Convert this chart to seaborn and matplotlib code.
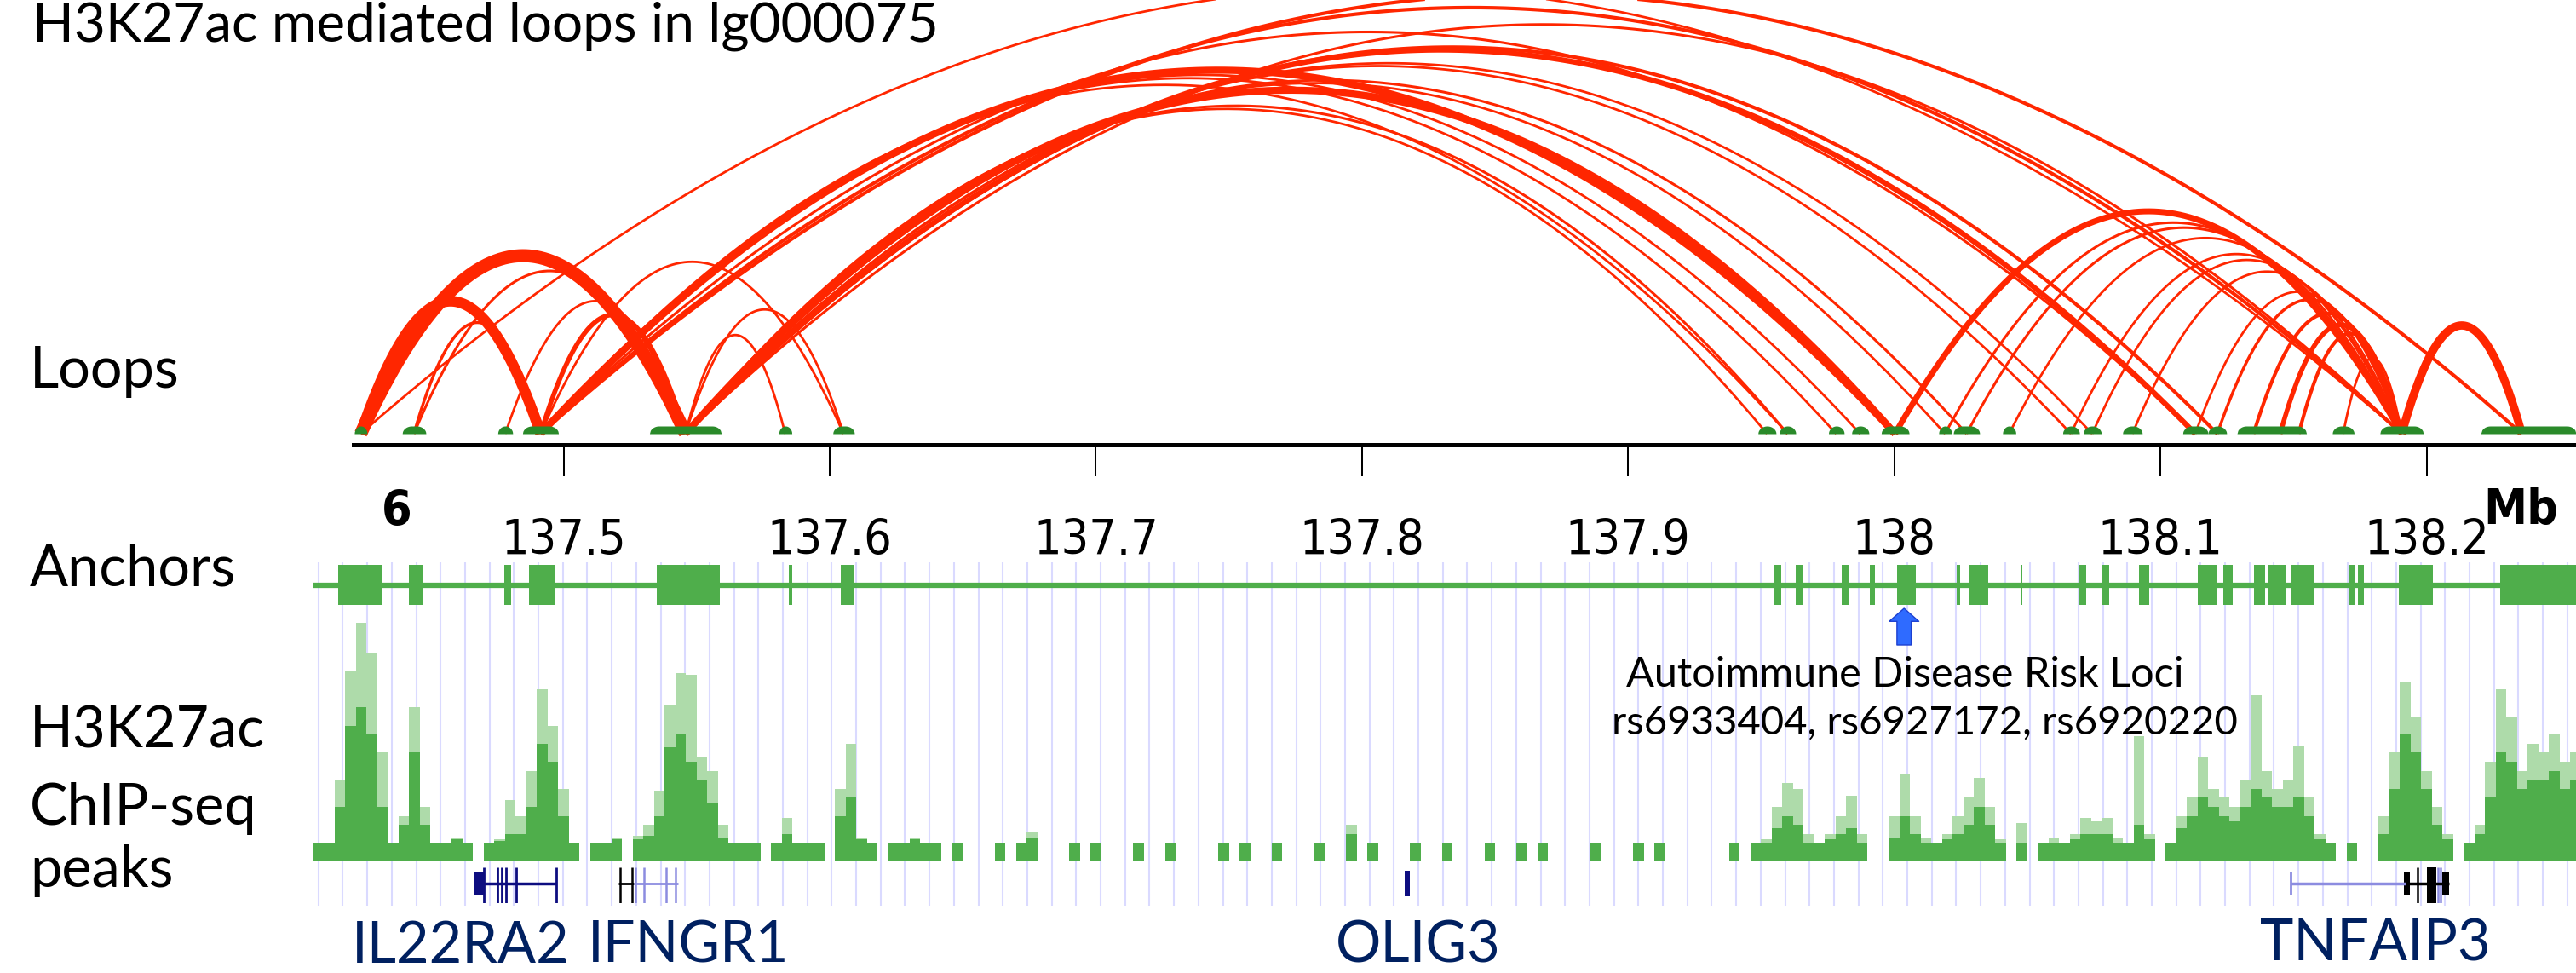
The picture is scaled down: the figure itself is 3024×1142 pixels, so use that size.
import numpy as np
import pandas as pd
import matplotlib
matplotlib.use("Agg")
import matplotlib.pyplot as plt
import seaborn as sns

# ---- data (chr6, Mb) ----
x_min, x_max = 137.28827, 138.25617

anchor_names = ["a1", "a2", "a3", "a4", "a5", "a6", "a7",
                "b1", "b2", "b3", "b4", "b5", "b6", "b7", "b8", "b9", "b10",
                "b11", "b12", "b13", "b14a", "b14b", "b14c", "b15", "b16", "b17"]
anchor_mb = [137.4238, 137.4438, 137.4781, 137.4914, 137.5458, 137.5833, 137.6052,
             137.9522, 137.9599, 137.9782, 137.9872, 138.0003, 138.0191, 138.0272,
             138.0432, 138.0664, 138.0744, 138.0895, 138.1131, 138.1214, 138.1350,
             138.1450, 138.1520, 138.1687, 138.1907, 138.2358]

loop_from = ["a1", "a1", "a2", "a2", "a3", "a4", "a4", "a5", "a5",
             "a1", "a4", "a5", "a4", "a5", "a4", "a5", "a5", "a4", "a5", "a5",
             "a4", "a4", "a5", "a5", "a5", "a5", "a4",
             "b5", "b6", "b7", "b8", "b9", "b10", "b11", "b12", "b13", "b14a",
             "b14b", "b14c", "b15", "b16"]
loop_to = ["a4", "a5", "a4", "a5", "a5", "a5", "a7", "a6", "a7",
           "b16", "b5", "b5", "b16", "b16", "b17", "b12", "b13", "b12", "b2", "b1",
           "b3", "b4", "b7", "b6", "b9", "b10", "b2",
           "b16", "b16", "b16", "b16", "b16", "b16", "b16", "b16", "b16", "b16",
           "b16", "b16", "b16", "b17"]
loop_weight = [9, 11, 2.5, 2.2, 2, 4, 2, 2, 2,
               2, 6, 6, 3, 2.2, 3, 4.5, 3, 2.2, 2.2, 2,
               2, 2, 2.2, 2, 2, 2, 2,
               5, 2.2, 2.2, 2, 2, 2, 2, 2, 2.5, 3,
               4, 3, 2, 7]

# loop anchor footprints (start, end)
bump_start = [137.4214, 137.4394, 137.4753, 137.4846, 137.5323, 137.5809, 137.6012,
              137.9488, 137.9568, 137.9753, 137.9840, 137.9951, 138.0167, 138.0222,
              138.0407, 138.0633, 138.0710, 138.0858, 138.1084, 138.1179, 138.1288,
              138.1646, 138.1825, 138.2204]
bump_end = [137.4262, 137.4483, 137.4809, 137.4981, 137.5593, 137.5858, 137.6093,
            137.9556, 137.9630, 137.9812, 137.9905, 138.0056, 138.0216, 138.0321,
            138.0457, 138.0696, 138.0778, 138.0932, 138.1179, 138.1249, 138.1549,
            138.1728, 138.1988, 138.2562]

# anchors track boxes
box_start = [137.4154, 137.4420, 137.4778, 137.4870, 137.5352, 137.5846, 137.6043,
             137.9549, 137.9630, 137.9802, 137.9907, 138.0012, 138.0235, 138.0284,
             138.0475, 138.0691, 138.0778, 138.0920, 138.1142, 138.1235, 138.1352,
             138.1407, 138.1488, 138.1710, 138.1741, 138.1895, 138.2278]
box_end = [137.4321, 137.4475, 137.4802, 137.4969, 137.5586, 137.5858, 137.6093,
           137.9574, 137.9654, 137.9833, 137.9926, 138.0080, 138.0247, 138.0352,
           138.0481, 138.0722, 138.0809, 138.0957, 138.1210, 138.1272, 138.1395,
           138.1475, 138.1580, 138.1728, 138.1765, 138.2025, 138.2600]
anchor_line = (137.4056, x_max)

# H3K27ac signal, 4 kb bins starting at 137.406 Mb
chip_bin0, chip_bin = 137.406, 0.004
chip_mean = [1, 1, 3, 7.5, 8.5, 7, 3, 1, 2, 6, 2, 1, 1, 1.2, 1, 0, 1, 1.1, 1.5, 1.5,
             3, 6.5, 5.5, 2.5, 1, 0, 1, 1, 1.2, 0, 1.2, 1.4, 2.5, 6.3, 7, 5.5, 4.5, 3.2, 1.3, 1,
             1, 1, 0, 1, 1.5, 1, 1, 1, 0, 2.5, 3.5, 1.2, 1, 0, 1, 1, 1.2, 1, 1, 0,
             1, 0, 0, 0, 1, 0, 1, 1.3, 0, 0, 0, 1, 0, 1, 0, 0, 0, 1, 0, 0,
             1, 0, 0, 0, 0, 1, 0, 1, 0, 0, 1, 0, 0, 0, 1, 0, 0, 1.5, 0, 1,
             0, 0, 0, 1, 0, 0, 1, 0, 0, 0, 1, 0, 0, 1, 0, 1, 0, 0, 0, 0,
             1, 0, 0, 0, 1, 0, 1, 0, 0, 0, 0, 0, 0, 1, 0, 1, 1, 1.8, 2.5, 2,
             1, 1, 1.2, 1.5, 1.8, 1, 0, 0, 1.3, 2.5, 1.5, 1, 1, 1.2, 1.5, 2, 3, 2, 1, 0,
             1, 0, 1, 1, 1, 1.2, 1.5, 1.5, 1.5, 1, 1, 2, 1.2, 0, 1, 1.8, 2.5, 3.5, 3, 2.5,
             2.2, 3, 4, 3.5, 3, 3, 3.5, 2.5, 1.2, 1, 0, 1, 0, 0, 1.5, 4, 7, 6, 4, 2,
             1.2, 0, 1, 1.5, 3.5, 6, 5.5, 4, 4.5, 4.5, 5, 4, 4.5]
chip_max = [1, 1, 4.5, 10.5, 13.2, 11.5, 6, 1, 2.5, 8.5, 3, 1, 1, 1.3, 1, 0, 1, 1.2, 3.4, 2.5,
            5, 9.5, 7.5, 4, 1, 0, 1, 1, 1.3, 0, 1.4, 2, 3.9, 8.6, 10.4, 10.3, 5.8, 5, 2, 1,
            1, 1, 0, 1, 2.4, 1, 1, 1, 0, 4, 6.5, 1.3, 1, 0, 1, 1, 1.3, 1, 1, 0,
            1, 0, 0, 0, 1, 0, 1, 1.6, 0, 0, 0, 1, 0, 1, 0, 0, 0, 1, 0, 0,
            1, 0, 0, 0, 0, 1, 0, 1, 0, 0, 1, 0, 0, 0, 1, 0, 0, 2, 0, 1,
            0, 0, 0, 1, 0, 0, 1, 0, 0, 0, 1, 0, 0, 1, 0, 1, 0, 0, 0, 0,
            1, 0, 0, 0, 1, 0, 1, 0, 0, 0, 0, 0, 0, 1, 0, 1, 1.2, 3, 4.3, 4,
            1.5, 1, 1.5, 2.5, 3.6, 1.5, 0, 0, 2.5, 4.8, 2.5, 1.3, 1, 1.5, 2.5, 3.5, 4.6, 3, 1.2, 0,
            2.1, 0, 1, 1.3, 1, 1.5, 2.4, 2.2, 2.4, 1.3, 1, 6.9, 1.5, 0, 1, 2.5, 3.5, 5.8, 4, 3.5,
            3, 4.5, 9.2, 5, 4, 4.5, 6.4, 3.5, 1.5, 1, 0, 1, 0, 0, 2.5, 6, 9.9, 8, 5, 3,
            1.5, 0, 1, 2, 5.5, 9.5, 8, 5, 6.5, 6, 7, 5.5, 6]

# gene models
il22ra2_block = (137.4667, 137.4701)
il22ra2_span = (137.4701, 137.4972)
il22ra2_exons = [137.4701, 137.4753, 137.4769, 137.4784, 137.4821, 137.4972]
ifngr1_black_span = (137.5207, 137.5264)
ifngr1_black_exons = [137.5212, 137.5257]
ifngr1_span = (137.5264, 137.5429)
ifngr1_exons = [137.5272, 137.5301, 137.5386, 137.5422]
olig3_block = (137.8160, 137.8179)
tnfaip3_span = (138.1488, 138.1920)
tnfaip3_exons = [138.1488, 138.2043, 138.2053]
tnfaip3_black_span = (138.1920, 138.2085)
tnfaip3_black_blocks = [(138.1914, 138.1938), (138.2000, 138.2037), (138.2059, 138.2085)]
tnfaip3_black_exons = [138.1967]

tick_pos = [137.5, 137.6, 137.7, 137.8, 137.9, 138.0, 138.1, 138.2]
tick_labels = ["137.5", "137.6", "137.7", "137.8", "137.9", "138", "138.1", "138.2"]
risk_locus = 138.0037

# ---- style ----
sns.set_style("white")
plt.rcParams["font.family"] = ["Lato", "DejaVu Sans"]
plt.rcParams["text.color"] = "black"
NARROW = ["DejaVu Sans"]

RED = "#ff2600"
BUMP = "#2a8a2a"
DARK = "#4fae4b"
LIGHT = "#aedbaa"
NAVY = "#0d0d80"
LAV = "#8c8ce0"
GRID = "#dadaff"

W, H = 3024, 1142
fig = plt.figure(figsize=(W / 100, H / 100), dpi=100)


def band(top, bottom):
    return [0, 1 - bottom / H, 1, (bottom - top) / H]


ax_bg = fig.add_axes(band(660, 1063), zorder=0)
ax_loop = fig.add_axes(band(0, 521.5), zorder=2)
ax_anc = fig.add_axes(band(663, 710), zorder=1)
ax_chip = fig.add_axes(band(713.8, 1010.6), zorder=1)
ax_gene = fig.add_axes(band(1018, 1060), zorder=1)

# grid lines of the browser tracks
grid_x = np.arange(137.4079, x_max, 0.009185)
ax_bg.vlines(grid_x, 0, 1, color=GRID, lw=1.5)
ax_bg.set_ylim(0, 1)

# loops: parabolic arcs, height grows with sqrt of the span
pos = dict(zip(anchor_names, anchor_mb))
for a, b, lw in zip(loop_from, loop_to, loop_weight):
    s, e = pos[a], pos[b]
    xs = np.linspace(s, e, 300)
    u = (xs - s) / (e - s)
    ax_loop.plot(xs, 4 * 598 * np.sqrt(e - s) * u * (1 - u), color=RED, lw=lw,
                 solid_capstyle="butt", zorder=2)

for s, e in zip(bump_start, bump_end):
    xs = np.linspace(s, e, 80)
    r = min((e - s) / 2, 0.0035)
    d = np.minimum(xs - s, e - xs)
    t = np.clip((r - d) / r, 0, 1)
    ax_loop.fill_between(xs, 0, 9 * np.sqrt(1 - t ** 2), color=BUMP, lw=0, zorder=3)

ax_loop.set_ylim(-12.5, 509)
for side in ["top", "left", "right"]:
    ax_loop.spines[side].set_visible(False)
ax_loop.spines["bottom"].set_linewidth(3.6)
ax_loop.spines["bottom"].set_color("black")
ax_loop.spines["bottom"].set_bounds(137.4210, x_max)
ax_loop.set_yticks([])
ax_loop.set_xticks(tick_pos, tick_labels)
ax_loop.tick_params(axis="x", bottom=True, direction="out", length=26.6, width=1.45,
                    pad=36, labelsize=41, colors="black")
for lbl in ax_loop.get_xticklabels():
    lbl.set_fontfamily(NARROW)
    lbl.set_fontstretch("condensed")

# anchors track
ax_anc.hlines(0.5, anchor_line[0], anchor_line[1], color=DARK, lw=4.5)
ax_anc.bar(box_start, 1, width=np.array(box_end) - np.array(box_start), align="edge",
           color=DARK, linewidth=0)
ax_anc.set_ylim(0, 1)

# ChIP-seq signal
edges = [chip_bin0 + chip_bin * i for i in range(len(chip_mean) + 1)]
chip = pd.DataFrame({"pos": [e + chip_bin / 2 for e in edges[:-1]],
                     "mean": chip_mean, "max": chip_max})
sns.histplot(data=chip, x="pos", weights="max", bins=edges, element="step", fill=True,
             color=LIGHT, alpha=1, linewidth=0, ax=ax_chip)
sns.histplot(data=chip, x="pos", weights="mean", bins=edges, element="step", fill=True,
             color=DARK, alpha=1, linewidth=0, ax=ax_chip)
ax_chip.set_ylim(0, 14)

# genes
g = ax_gene
g.hlines(0.55, *il22ra2_span, color=NAVY, lw=2.5)
g.bar(il22ra2_block[0], 0.64, bottom=0.24, width=il22ra2_block[1] - il22ra2_block[0],
      align="edge", color=NAVY, lw=0)
g.vlines(il22ra2_exons, 0, 1, color=NAVY, lw=2)
g.hlines(0.55, *ifngr1_black_span, color="black", lw=2)
g.vlines(ifngr1_black_exons, 0, 1, color="black", lw=1.8)
g.hlines(0.55, *ifngr1_span, color=LAV, lw=2)
g.vlines(ifngr1_exons, 0, 1, color=LAV, lw=1.8)
g.bar(olig3_block[0], 0.7, bottom=0.2, width=olig3_block[1] - olig3_block[0],
      align="edge", color=NAVY, lw=0)
g.hlines(0.55, *tnfaip3_span, color=LAV, lw=2.5)
g.vlines(tnfaip3_exons[0], 0.24, 0.88, color=LAV, lw=2)
g.vlines(tnfaip3_exons[1:], 0, 1, color=LAV, lw=1.8)
g.hlines(0.55, *tnfaip3_black_span, color="black", lw=2.5)
for i, (s, e) in enumerate(tnfaip3_black_blocks):
    lo, hi = (0, 1) if i == 1 else (0.24, 0.88)
    g.bar(s, hi - lo, bottom=lo, width=e - s, align="edge", color="black", lw=0)
g.vlines(tnfaip3_black_exons, 0, 1, color="black", lw=1.8)
g.set_ylim(0, 1)

for ax in [ax_bg, ax_anc, ax_chip, ax_gene]:
    ax.set_xlim(x_min, x_max)
    ax.set_facecolor("none")
    ax.axis("off")
ax_loop.set_xlim(x_min, x_max)
ax_loop.set_facecolor("none")

# risk locus arrow
ax_bg.annotate("", xy=(risk_locus, 1 - 714 / H), xycoords=("data", "figure fraction"),
               xytext=(risk_locus, 1 - 757 / H), textcoords=("data", "figure fraction"),
               arrowprops=dict(arrowstyle="simple,head_length=0.55,head_width=1.25,tail_width=0.6",
                               fc="#2f6bff", ec="#1c3fd0", lw=1, shrinkA=0, shrinkB=0,
                               mutation_scale=20))


# text
def ftext(x, y, s, **kw):
    fig.text(x / W, 1 - y / H, s, va="baseline", **kw)


ftext(38, 48, "H3K27ac mediated loops in lg000075", fontsize=46)
ftext(35, 455, "Loops", fontsize=48)
ftext(35, 687, "Anchors", fontsize=48)
ftext(35, 877, "H3K27ac", fontsize=48)
ftext(35, 968, "ChIP-seq", fontsize=48)
ftext(35, 1041, "peaks", fontsize=48)
ftext(466, 617, "6", fontsize=41, fontweight="bold", ha="center", family=NARROW,
      fontstretch="condensed")
ftext(2959, 615, "Mb", fontsize=41, fontweight="bold", ha="center", family=NARROW,
      fontstretch="condensed")
ftext(2236, 806, "Autoimmune Disease Risk Loci", fontsize=35, ha="center")
ftext(2259, 862, "rs6933404, rs6927172, rs6920220", fontsize=34, ha="center")
ftext(541, 1130, "IL22RA2", fontsize=48, ha="center", color="#002060")
ftext(808, 1130, "IFNGR1", fontsize=48, ha="center", color="#002060")
ftext(1665, 1130, "OLIG3", fontsize=48, ha="center", color="#002060")
ftext(2788, 1128, "TNFAIP3", fontsize=48, ha="center", color="#002060")

fig.savefig("out.png", dpi=100)
